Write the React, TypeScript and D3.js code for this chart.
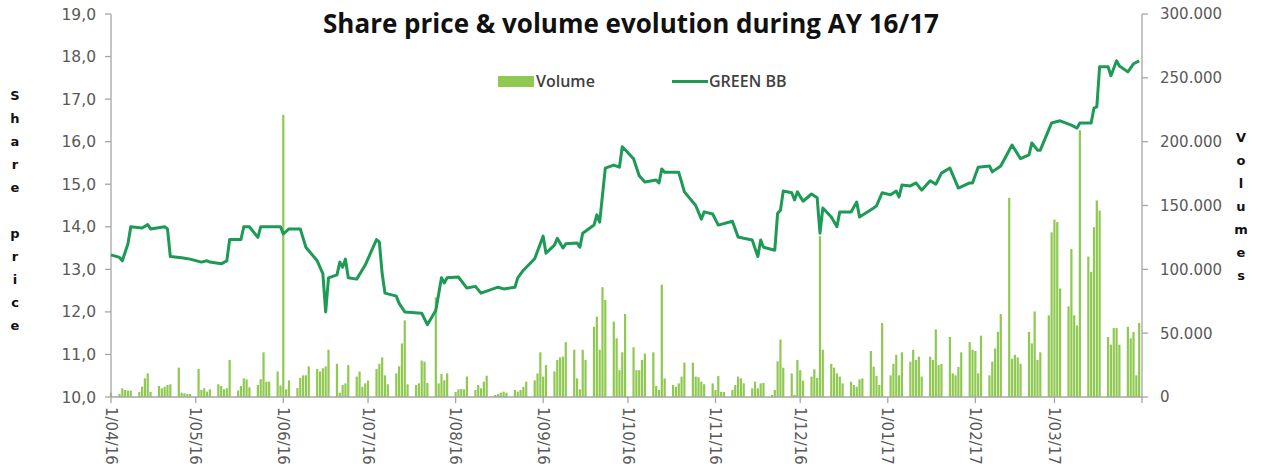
import React from "react";
import * as d3 from "d3";

// share price
const pricePoints: [string, number][] = [
  ["2016-04-01", 13.34], ["2016-04-04", 13.28], ["2016-04-05", 13.2], ["2016-04-07", 13.6],
  ["2016-04-08", 14.0], ["2016-04-12", 13.97], ["2016-04-14", 14.05], ["2016-04-15", 13.95],
  ["2016-04-20", 14.0], ["2016-04-21", 13.95], ["2016-04-22", 13.3], ["2016-04-26", 13.27],
  ["2016-04-29", 13.24], ["2016-05-03", 13.17], ["2016-05-05", 13.2], ["2016-05-06", 13.17],
  ["2016-05-10", 13.13], ["2016-05-12", 13.2], ["2016-05-13", 13.7], ["2016-05-17", 13.7],
  ["2016-05-18", 14.0], ["2016-05-20", 14.0], ["2016-05-23", 13.75], ["2016-05-24", 14.0],
  ["2016-05-31", 14.0], ["2016-06-01", 13.83], ["2016-06-03", 13.95], ["2016-06-07", 13.95],
  ["2016-06-09", 13.52], ["2016-06-13", 13.2], ["2016-06-15", 12.9], ["2016-06-16", 12.0],
  ["2016-06-17", 12.8], ["2016-06-20", 12.87], ["2016-06-21", 13.17], ["2016-06-22", 13.05],
  ["2016-06-23", 13.24], ["2016-06-24", 12.8], ["2016-06-27", 12.77], ["2016-06-30", 13.1],
  ["2016-07-04", 13.7], ["2016-07-05", 13.64], ["2016-07-06", 12.9], ["2016-07-07", 12.44],
  ["2016-07-11", 12.37], ["2016-07-12", 12.2], ["2016-07-14", 12.0], ["2016-07-20", 11.97],
  ["2016-07-22", 11.7], ["2016-07-25", 12.04], ["2016-07-27", 12.8], ["2016-07-28", 12.68],
  ["2016-07-29", 12.8], ["2016-08-02", 12.82], ["2016-08-05", 12.56], ["2016-08-08", 12.6],
  ["2016-08-10", 12.44], ["2016-08-16", 12.58], ["2016-08-18", 12.54], ["2016-08-22", 12.58],
  ["2016-08-23", 12.8], ["2016-08-25", 12.98], ["2016-08-29", 13.25], ["2016-09-01", 13.78],
  ["2016-09-02", 13.38], ["2016-09-05", 13.57], ["2016-09-06", 13.73], ["2016-09-08", 13.5],
  ["2016-09-09", 13.6], ["2016-09-13", 13.62], ["2016-09-14", 13.52], ["2016-09-15", 13.85],
  ["2016-09-19", 14.04], ["2016-09-20", 14.28], ["2016-09-21", 14.11], ["2016-09-23", 15.38],
  ["2016-09-26", 15.45], ["2016-09-28", 15.4], ["2016-09-29", 15.88], ["2016-10-03", 15.6],
  ["2016-10-05", 15.2], ["2016-10-07", 15.05], ["2016-10-11", 15.1], ["2016-10-12", 15.03],
  ["2016-10-13", 15.36], ["2016-10-14", 15.28], ["2016-10-19", 15.28], ["2016-10-21", 14.82],
  ["2016-10-25", 14.5], ["2016-10-27", 14.18], ["2016-10-28", 14.35], ["2016-10-31", 14.3],
  ["2016-11-02", 14.04], ["2016-11-07", 14.13], ["2016-11-09", 13.76], ["2016-11-11", 13.73],
  ["2016-11-14", 13.69], ["2016-11-16", 13.3], ["2016-11-17", 13.69], ["2016-11-18", 13.52],
  ["2016-11-22", 13.45], ["2016-11-23", 14.32], ["2016-11-24", 14.39], ["2016-11-25", 14.84],
  ["2016-11-28", 14.8], ["2016-11-29", 14.63], ["2016-11-30", 14.82], ["2016-12-02", 14.6],
  ["2016-12-05", 14.77], ["2016-12-07", 14.68], ["2016-12-08", 13.85], ["2016-12-09", 14.44],
  ["2016-12-12", 14.23], ["2016-12-14", 14.0], ["2016-12-15", 14.35], ["2016-12-19", 14.35],
  ["2016-12-21", 14.58], ["2016-12-22", 14.23], ["2016-12-27", 14.44], ["2016-12-28", 14.49],
  ["2016-12-30", 14.8], ["2017-01-02", 14.75], ["2017-01-04", 14.84], ["2017-01-05", 14.7],
  ["2017-01-06", 14.98], ["2017-01-09", 14.96], ["2017-01-11", 15.03], ["2017-01-13", 14.86],
  ["2017-01-16", 15.08], ["2017-01-18", 15.0], ["2017-01-20", 15.26], ["2017-01-23", 15.38],
  ["2017-01-26", 14.91], ["2017-01-30", 15.03], ["2017-01-31", 15.03], ["2017-02-02", 15.4],
  ["2017-02-06", 15.43], ["2017-02-07", 15.29], ["2017-02-10", 15.43], ["2017-02-14", 15.92],
  ["2017-02-17", 15.6], ["2017-02-20", 15.69], ["2017-02-21", 15.97], ["2017-02-23", 15.8],
  ["2017-02-24", 15.8], ["2017-02-28", 16.44], ["2017-03-03", 16.49], ["2017-03-07", 16.39],
  ["2017-03-09", 16.32], ["2017-03-10", 16.44], ["2017-03-14", 16.44], ["2017-03-15", 16.79],
  ["2017-03-16", 16.82], ["2017-03-17", 17.76], ["2017-03-20", 17.76], ["2017-03-21", 17.55],
  ["2017-03-23", 17.9], ["2017-03-24", 17.78], ["2017-03-27", 17.64], ["2017-03-29", 17.83],
  ["2017-03-31", 17.9],
];

// daily volume, one row per week (Mon..Fri)
const volumeWeeks: [string, number[]][] = [
  ["2016-03-28", [0, 0, 0, 0, 3400]],
  ["2016-04-04", [2300, 6800, 5500, 5000, 5000]],
  ["2016-04-11", [4000, 8000, 14600, 18500, 4000]],
  ["2016-04-18", [8600, 6800, 8000, 9400, 10000]],
  ["2016-04-25", [23000, 3400, 2900, 2300, 2300]],
  ["2016-05-02", [22000, 5500, 6800, 4200, 6000]],
  ["2016-05-09", [10000, 8600, 6000, 6800, 29000]],
  ["2016-05-16", [5000, 8600, 14600, 13800, 7600]],
  ["2016-05-23", [9400, 14000, 35000, 12000, 12000]],
  ["2016-05-30", [20000, 9000, 221000, 6000, 13000]],
  ["2016-06-06", [7000, 15000, 17000, 17000, 24000]],
  ["2016-06-13", [22000, 20000, 22500, 24000, 37000]],
  ["2016-06-20", [26000, 3400, 9400, 10700, 25000]],
  ["2016-06-27", [16000, 20000, 8000, 10700, 12800]],
  ["2016-07-04", [22000, 26000, 31000, 17000, 10000]],
  ["2016-07-11", [18500, 24000, 42000, 60000, 10000]],
  ["2016-07-18", [9400, 10700, 28500, 27700, 11000]],
  ["2016-07-25", [78000, 10700, 18000, 13000, 18500]],
  ["2016-08-01", [4000, 6000, 6200, 6000, 16000]],
  ["2016-08-08", [5500, 9400, 6800, 12000, 16700]],
  ["2016-08-15", [1600, 2300, 3400, 4200, 3400]],
  ["2016-08-22", [5500, 4200, 5500, 8000, 12000]],
  ["2016-08-29", [13000, 18500, 35000, 16000, 25000]],
  ["2016-09-05", [20000, 29000, 31000, 31600, 43000]],
  ["2016-09-12", [37000, 14600, 6000, 37000, 29000]],
  ["2016-09-19", [55000, 63000, 37000, 86000, 76000]],
  ["2016-09-26", [59000, 46000, 21000, 35000, 65000]],
  ["2016-10-03", [39000, 21000, 21000, 29000, 34000]],
  ["2016-10-10", [35000, 8600, 5500, 88000, 14600]],
  ["2016-10-17", [9400, 8000, 10700, 16000, 27000]],
  ["2016-10-24", [27000, 16000, 15500, 12000, 10000]],
  ["2016-10-31", [10700, 5500, 16400, 4000, 4000]],
  ["2016-11-07", [5500, 9400, 16000, 14600, 10700]],
  ["2016-11-14", [6800, 12000, 6800, 10700, 11000]],
  ["2016-11-21", [1600, 5500, 28000, 45000, 23000]],
  ["2016-11-28", [18500, 1600, 29000, 21000, 12800]],
  ["2016-12-05", [16000, 21700, 15000, 126000, 37000]],
  ["2016-12-12", [26000, 23000, 18500, 16000, 10700]],
  ["2016-12-19", [12000, 9400, 8000, 13800, 14600]],
  ["2016-12-26", [36000, 23700, 16400, 9400, 58000]],
  ["2017-01-02", [17000, 26000, 33000, 17000, 35000]],
  ["2017-01-09", [27700, 37000, 29000, 31600, 16000]],
  ["2017-01-16", [31600, 29000, 53000, 25000, 26000]],
  ["2017-01-23", [47000, 18500, 17000, 23500, 35000]],
  ["2017-01-30", [43000, 37000, 36000, 18500, 48000]],
  ["2017-02-06", [17000, 27700, 38000, 51000, 65000]],
  ["2017-02-13", [156000, 30000, 33000, 31000, 26000]],
  ["2017-02-20", [51000, 42000, 67000, 29000, 35000]],
  ["2017-02-27", [64000, 129000, 139000, 137000, 85000]],
  ["2017-03-06", [71000, 116000, 64000, 56000, 209000]],
  ["2017-03-13", [110000, 98000, 133000, 154000, 146000]],
  ["2017-03-20", [47000, 41000, 54000, 54000, 41000]],
  ["2017-03-27", [55000, 46000, 51000, 17000, 58000]],
];

const priceTicks = [10, 11, 12, 13, 14, 15, 16, 17, 18, 19];
const volumeTicks = [0, 50000, 100000, 150000, 200000, 250000, 300000];
const leftTitle = "Share price";
const rightTitle = "Volumes";

const parse = d3.timeParse("%Y-%m-%d");
const start = parse("2016-04-01")!;
const end = parse("2017-04-01")!;

const W = 1262;
const H = 468;
const left = 111;
const right = 1142;
const top = 14;
const bottom = 397;

const euro = d3.formatLocale({ decimal: ",", thousands: ".", grouping: [3], currency: ["", "€"] });
const fmtVol = euro.format(",.0f");
const fmtPrice = euro.format(".1f");
const fmtDate = d3.timeFormat("%-d/%m/%y");

const FONT = "'DejaVu Sans', sans-serif";
const TITLE_FONT = "'Open Sans', sans-serif";
const AXIS = "#a6a6a6";
const LABEL = "#595959";
const LINE = "#1c9a56";
const BAR = "#8fc951";

export default function App() {
  const x = d3.scaleTime().domain([start, end]).range([left, right]);
  const yPrice = d3.scaleLinear().domain([10, 19]).range([bottom, top]);
  const yVol = d3.scaleLinear().domain([0, 300000]).range([bottom, top]);

  const bars: { date: Date; v: number }[] = [];
  volumeWeeks.forEach(([mon, vals]) => {
    const m = parse(mon)!;
    vals.forEach((v, i) => {
      const d = d3.timeDay.offset(m, i);
      if (d >= start && d < end) bars.push({ date: d, v });
    });
  });

  const line = d3
    .line<[string, number]>()
    .x((d) => x(parse(d[0])!))
    .y((d) => yPrice(d[1]));

  const months = d3.timeMonth.range(start, end);

  return (
    <svg width={W} height={H} style={{ position: "absolute", left: 0, top: 0, background: "#fff" }}>
      <text x={631} y={33} textAnchor="middle" fontFamily={TITLE_FONT} fontWeight="bold" fontSize={26} fill="#111">
        Share price &amp; volume evolution during AY 16/17
      </text>

      {/* legend */}
      <rect x={498} y={76} width={36} height={11} fill={BAR} />
      <text x={536} y={87} fontFamily={TITLE_FONT} fontWeight={600} fontSize={16} fill="#404040">Volume</text>
      <line x1={672} x2={708} y1={81.5} y2={81.5} stroke={LINE} strokeWidth={3} />
      <text x={709} y={87} fontFamily={TITLE_FONT} fontWeight={600} fontSize={16} fill="#404040">GREEN BB</text>

      {/* volume bars */}
      <g>
        {bars.map((b, i) => (
          <rect
            key={i}
            x={x(b.date) - 1.1}
            y={yVol(b.v)}
            width={2.2}
            height={bottom - yVol(b.v)}
            fill={BAR}
          />
        ))}
      </g>

      {/* axes */}
      <line x1={left} x2={left} y1={top} y2={bottom} stroke={AXIS} strokeWidth={1.3} />
      <line x1={right} x2={right} y1={top} y2={bottom} stroke={AXIS} strokeWidth={1.3} />
      <line x1={left} x2={right} y1={bottom} y2={bottom} stroke={AXIS} strokeWidth={1.3} />

      {priceTicks.map((t) => (
        <g key={t}>
          <line x1={left - 6} x2={left} y1={yPrice(t)} y2={yPrice(t)} stroke={AXIS} strokeWidth={1.3} />
          <text x={96} y={yPrice(t)} dy="0.36em" textAnchor="end" fontFamily={FONT} fontSize={15.5} fill={LABEL}>
            {fmtPrice(t)}
          </text>
        </g>
      ))}

      {volumeTicks.map((t) => (
        <g key={t}>
          <line x1={right} x2={right + 6} y1={yVol(t)} y2={yVol(t)} stroke={AXIS} strokeWidth={1.3} />
          <text x={1160} y={yVol(t)} dy="0.36em" fontFamily={FONT} fontSize={15} fill={LABEL}>
            {fmtVol(t)}
          </text>
        </g>
      ))}

      {[...months, end].map((m, i) => (
        <line key={i} x1={x(m)} x2={x(m)} y1={bottom} y2={bottom + 6} stroke={AXIS} strokeWidth={1.3} />
      ))}
      {months.map((m, i) => (
        <text
          key={i}
          transform={`translate(${x(m)},${bottom + 10}) rotate(90)`}
          dy="0.36em"
          fontFamily={FONT}
          fontSize={15}
          fill={LABEL}
        >
          {fmtDate(m)}
        </text>
      ))}

      {/* price line */}
      <path d={line(pricePoints) ?? ""} fill="none" stroke={LINE} strokeWidth={3} strokeLinejoin="round" />

      {/* vertical axis titles */}
      {leftTitle.split("").map((c, i) => (
        <text key={i} x={15} y={100 + i * 23} textAnchor="middle" fontFamily={FONT} fontWeight="bold" fontSize={13} fill="#111">
          {c}
        </text>
      ))}
      {rightTitle.split("").map((c, i) => (
        <text key={i} x={1241} y={142 + i * 23} textAnchor="middle" fontFamily={FONT} fontWeight="bold" fontSize={13} fill="#111">
          {c}
        </text>
      ))}
    </svg>
  );
}
